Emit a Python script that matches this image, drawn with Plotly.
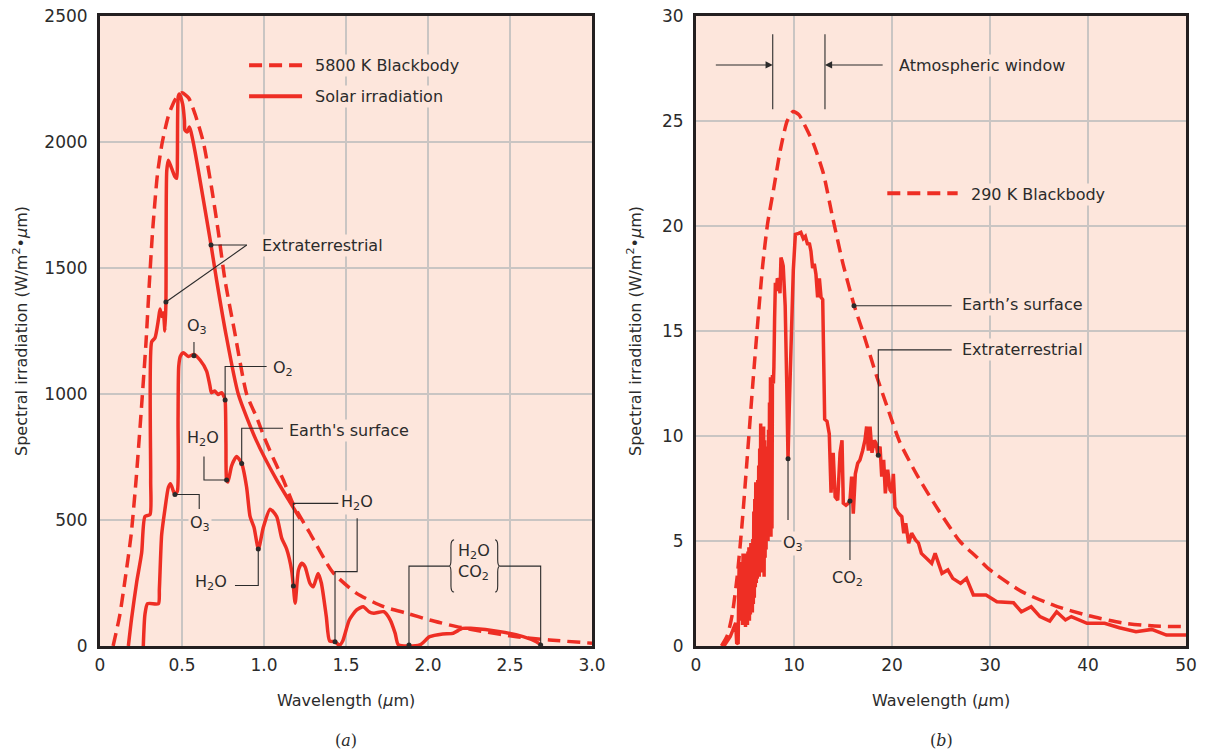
import plotly.graph_objects as go

# body margin is removed in the page (post_script), so the figure sits at (0, 0)
OFF = 0
W, H = 1207 - OFF, 752 - OFF
RED = '#ee2e24'
INK = '#2b2b2b'
BG = '#fde6dc'
GRID = '#c9c5c3'
FRAME = '#231f20'
FONT = 'DejaVu Sans'
DASH = '13px,7px'

def fx(px):
    return (px - OFF) / W

def fy(py):
    return 1 - (py - OFF) / H

# ---------------- Panel (a): solar spectrum ----------------
bb5800_x = [0.08, 0.12, 0.15, 0.19, 0.22, 0.25, 0.28, 0.30, 0.32, 0.35, 0.38, 0.42, 0.46, 0.50,
            0.54, 0.58, 0.63, 0.68, 0.72, 0.762, 0.82, 0.894, 0.96, 1.0, 1.06, 1.118, 1.18,
            1.28, 1.42, 1.565, 1.73, 1.87, 2.01, 2.175, 2.34, 2.54, 2.74, 3.0]
bb5800_y = [0, 120, 250, 442, 659, 920, 1200, 1430, 1640, 1870, 2000, 2110, 2170, 2195,
            2175, 2110, 2000, 1820, 1650, 1452, 1250, 1000, 900, 830, 740, 659, 560,
            448, 292, 209, 156, 130, 103, 77, 57, 37, 24, 11]

extra_x = [0.173, 0.193, 0.224, 0.254, 0.274, 0.305, 0.309, 0.315, 0.335, 0.356, 0.366, 0.376,
           0.386, 0.396, 0.402, 0.407, 0.417, 0.437, 0.457, 0.468, 0.472, 0.477, 0.484, 0.504,
           0.515, 0.518, 0.532, 0.545, 0.555, 0.58, 0.62, 0.677, 0.711, 0.77, 0.843, 0.95,
           1.077, 1.15, 1.22]
extra_y = [0, 111, 255, 370, 514, 522, 659, 1207, 1222, 1294, 1337, 1308,
           1322, 1250, 1366, 1885, 1928, 1895, 1862, 1856, 1942, 2180, 2190, 2150,
           2085, 2047, 2040, 2060, 2040, 1960, 1810, 1591, 1452, 1230, 1000, 820,
           659, 580, 505]

surface_x = [0.264, 0.274, 0.29, 0.356, 0.362, 0.376, 0.396, 0.417, 0.43, 0.447, 0.457, 0.472,
             0.476, 0.48, 0.49, 0.508, 0.539, 0.573, 0.61, 0.65, 0.67, 0.68, 0.70, 0.72, 0.742,
             0.756, 0.763, 0.768, 0.772, 0.78, 0.803, 0.833, 0.864, 0.894, 0.915, 0.939, 0.966,
             0.996, 1.037, 1.077, 1.108, 1.138, 1.169, 1.179, 1.19, 1.21, 1.23, 1.25, 1.28, 1.30,
             1.33, 1.35, 1.38, 1.40, 1.433, 1.46, 1.48, 1.52, 1.565, 1.605, 1.64, 1.67, 1.73,
             1.77, 1.80, 1.82, 1.95, 2.01, 2.09, 2.15, 2.21, 2.26, 2.44, 2.58, 2.66, 2.69]
surface_y = [0, 125, 168, 168, 226, 442, 543, 630, 644, 615, 601, 615,
             900, 1110, 1150, 1164, 1149, 1157, 1135, 1091, 1034, 1005, 1012, 998, 1005,
             990, 976, 803, 659, 651, 716, 752, 724, 630, 514, 471, 385,
             471, 543, 514, 428, 385, 298, 238, 170, 301, 328, 315, 249, 235,
             288, 249, 116, 20, 17, 3, 20, 103, 143, 156, 136, 130, 136,
             103, 50, 4, 4, 37, 48, 50, 70, 70, 57, 37, 17, 4]

# ---------------- Panel (b): Earth emission ----------------
bb290_x = [2.6, 3.2, 3.7, 4.2, 4.7, 5.2, 5.8, 6.3, 6.8, 7.3, 7.9, 8.6, 9.3, 9.9, 10.5, 11.2,
           12.0, 13.0, 13.9, 15.0, 16.15, 17.0, 18.4, 19.5, 20.8, 22.6, 24.7, 26.9, 28.6,
           30.0, 33.2, 36.6, 40.0, 43.5, 46.8, 50.0]
bb290_y = [0, 0.5, 1.5, 3.3, 5.8, 8.8, 12.5, 15.4, 18.1, 20.1, 21.7, 23.6, 25.0, 25.45, 25.3, 24.7,
           23.9, 22.5, 20.5, 18.2, 16.2, 15.0, 12.9, 11.4, 9.7, 8.1, 6.5, 5.0, 4.25,
           3.62, 2.6, 1.92, 1.45, 1.1, 0.95, 0.92]

earth_x = [2.85, 3.5, 4.05, 4.15, 4.3,
           4.35, 4.40, 4.45, 4.50, 4.55, 4.60, 4.65, 4.70, 4.75, 4.80, 4.85, 4.90, 4.95, 5.00,
           5.05, 5.10, 5.15, 5.20, 5.25, 5.30, 5.35, 5.40, 5.45, 5.50, 5.55, 5.60, 5.65, 5.70,
           5.75, 5.80, 5.85, 5.90, 5.95, 6.00, 6.05, 6.10, 6.15, 6.20, 6.25, 6.30, 6.35, 6.40,
           6.45, 6.50, 6.55, 6.60, 6.65, 6.70, 6.75, 6.80, 6.85, 6.90, 6.95, 7.00, 7.05, 7.10,
           7.15, 7.20, 7.25, 7.30, 7.35, 7.40, 7.45, 7.50, 7.55, 7.60, 7.65, 7.70, 7.75,
           7.80, 7.90, 7.95, 8.02, 8.10, 8.20, 8.30, 8.44, 8.57, 8.67, 8.80, 8.90, 9.10, 9.25,
           9.39, 9.52, 9.70, 9.93, 10.14, 10.48, 10.70, 10.95, 11.16, 11.40, 11.56, 11.73, 11.90,
           12.07, 12.24, 12.41, 12.59, 12.76, 12.93, 13.13, 13.37, 13.60, 13.78, 14.00, 14.20,
           14.46, 14.70, 14.90, 15.03, 15.30, 15.54, 15.71, 15.88, 16.05, 16.26, 16.50, 16.73,
           17.00, 17.24, 17.41, 17.59, 17.76, 17.96, 18.20, 18.37, 18.57, 18.78, 18.95, 19.15,
           19.32, 19.56, 19.80, 20.00, 20.14, 20.30, 20.65, 21.0, 21.2, 21.4, 21.7, 22.0, 22.4,
           22.7, 23.0, 24.05, 24.4, 25.1, 25.7, 26.2, 27.0, 27.6, 28.3, 29.6, 30.7, 32.4, 33.2,
           34.2, 35.1, 36.1, 36.8, 37.7, 38.3, 39.9, 41.7, 43.2, 44.9, 46.5, 48.0, 50.0]
earth_y = [0, 0.45, 1.1, 0.15, 0.1,
           2.2, 3.8, 1.4, 3.5, 1.2, 4.0, 1.5, 3.6, 1.0, 4.4, 1.3, 3.9, 1.0, 4.3,
           0.9, 4.4, 1.4, 3.8, 1.0, 4.5, 1.6, 4.7, 1.2, 4.2, 1.5, 4.9, 1.8, 4.4,
           1.6, 5.1, 2.0, 6.4, 2.3, 7.0, 2.8, 7.8, 3.0, 6.9, 3.2, 7.9, 3.4, 8.6,
           3.3, 9.4, 3.6, 10.6, 4.0, 10.2, 3.5, 9.6, 3.9, 10.45, 3.3, 9.8, 4.2, 8.9,
           4.6, 9.5, 5.1, 9.2, 5.0, 10.3, 5.5, 11.6, 5.2, 12.8, 5.2, 12.6, 5.6,
           12.9, 12.5, 13.3, 15.6, 17.3, 16.9, 17.5, 17.4, 16.8, 18.5, 18.3, 18.1, 16.2, 12.7,
           8.9, 11.4, 14.3, 17.9, 19.6, 19.65, 19.7, 19.4, 19.5, 19.1, 19.2, 18.8, 18.0,
           18.2, 17.7, 16.6, 17.5, 16.6, 16.5, 10.8, 10.7, 10.1, 7.3, 9.2, 7.1,
           6.95, 9.2, 9.8, 6.8, 6.7, 6.8, 6.9, 8.07, 6.3, 8.2, 8.7, 8.86,
           9.3, 9.8, 10.45, 9.3, 10.45, 9.2, 9.8, 9.65, 9.08, 9.5, 8.07, 8.86,
           7.27, 8.4, 7.43, 7.3, 8.2, 6.6, 6.32, 6.16, 5.37, 5.84, 4.89, 5.37, 5.05,
           4.9, 4.41, 3.94, 4.41, 3.46, 3.62, 3.22, 2.98, 3.22, 2.43, 2.43, 2.11, 2.06, 1.63,
           1.87, 1.4, 1.19, 1.63, 1.24, 1.4, 1.08, 1.08, 0.87, 0.68, 0.79, 0.52, 0.52]

# annotation dots
dots_a_x = [0.677, 0.402, 0.573, 0.763, 0.864, 0.772, 0.457, 0.965, 1.179, 1.433, 1.884, 2.687]
dots_a_y = [1591, 1365, 1152, 976, 724, 659, 601, 385, 238, 17, 4, 4]
dots_b_x = [16.12, 18.6, 9.39, 15.71]
dots_b_y = [16.2, 9.08, 8.92, 6.9]

fig = go.Figure()

def curve(x, y, ax, dash=None, shape='linear'):
    line = dict(color=RED, width=3.5, shape=shape, simplify=False)
    if shape == 'spline':
        line['smoothing'] = 0.6
    if dash:
        line['dash'] = dash
    fig.add_trace(go.Scatter(x=x, y=y, mode='lines', line=line, showlegend=False,
                             xaxis='x' + ax, yaxis='y' + ax, hoverinfo='skip'))

curve(bb5800_x, bb5800_y, '', DASH, 'spline')
curve(extra_x, extra_y, '', None, 'spline')
curve(surface_x, surface_y, '', None, 'spline')
curve(bb290_x, bb290_y, '2', DASH, 'spline')
curve(earth_x, earth_y, '2', None, 'linear')

fig.add_trace(go.Scatter(x=dots_a_x, y=dots_a_y, mode='markers', marker=dict(color=INK, size=5),
                         showlegend=False, cliponaxis=False, hoverinfo='skip'))
fig.add_trace(go.Scatter(x=dots_b_x, y=dots_b_y, mode='markers', marker=dict(color=INK, size=5),
                         showlegend=False, xaxis='x2', yaxis='y2', hoverinfo='skip'))

shapes = []
annotations = []

def leader(pts, ax=''):
    d = 'M ' + ' L '.join(f'{x},{y}' for x, y in pts)
    shapes.append(dict(type='path', path=d, xref='x' + ax, yref='y' + ax,
                       line=dict(color=INK, width=1.1)))

def label(text, x, y, ax='', xanchor='center', size=16):
    annotations.append(dict(text=text, x=x, y=y, xref='x' + ax, yref='y' + ax, showarrow=False,
                            xanchor=xanchor, yanchor='middle', bgcolor=BG, borderpad=1,
                            font=dict(family=FONT, size=size, color=INK)))

def legend_line(x0, x1, y, ax='', dash=None):
    ln = dict(color=RED, width=4)
    if dash:
        ln['dash'] = dash
    shapes.append(dict(type='line', x0=x0, x1=x1, y0=y, y1=y, xref='x' + ax, yref='y' + ax, line=ln))

def brace(xm, xtip, xcurl, ytop, ybot, d, ax=''):
    ymid = (ytop + ybot) / 2
    p = (f'M {xcurl},{ytop} Q {xm},{ytop} {xm},{ytop - d} L {xm},{ymid + d} '
         f'Q {xm},{ymid} {xtip},{ymid} Q {xm},{ymid} {xm},{ymid - d} L {xm},{ybot + d} '
         f'Q {xm},{ybot} {xcurl},{ybot}')
    shapes.append(dict(type='path', path=p, xref='x' + ax, yref='y' + ax,
                       line=dict(color=INK, width=1.1)))

# ---- panel (a) legend + labels ----
legend_line(0.909, 1.232, 2305, '', DASH)
legend_line(0.909, 1.232, 2182, '')
label('5800 K Blackbody', 1.30, 2305, '', 'left')
label('Solar irradiation', 1.30, 2182, '', 'left')

leader([(0.677, 1591), (0.895, 1591)])
leader([(0.895, 1591), (0.402, 1365)])
label('Extraterrestrial', 0.976, 1591, '', 'left')
leader([(0.573, 1152), (0.573, 1206)])
label('O<sub>3</sub>', 0.591, 1268)
leader([(0.763, 976), (0.763, 1109), (1.016, 1109)])
label('O<sub>2</sub>', 1.045, 1103, '', 'left')
leader([(0.864, 724), (0.864, 864), (1.116, 864)])
label("Earth's surface", 1.14, 857, '', 'left')
leader([(0.634, 752), (0.634, 659), (0.772, 659)])
label('H<sub>2</sub>O', 0.628, 822)
leader([(0.457, 601), (0.605, 601), (0.605, 544)])
label('O<sub>3</sub>', 0.61, 488)
leader([(0.823, 240), (0.965, 240), (0.965, 385)])
label('H<sub>2</sub>O', 0.677, 252)
leader([(1.179, 238), (1.179, 566), (1.453, 566)])
leader([(1.568, 507), (1.568, 295), (1.433, 295), (1.433, 17)])
label('H<sub>2</sub>O', 1.565, 570)
brace(2.140, 2.128, 2.159, 421, 214, 24)
brace(2.425, 2.439, 2.409, 421, 214, 24)
leader([(2.128, 317), (1.884, 317), (1.884, 4)])
leader([(2.439, 317), (2.687, 317), (2.687, 4)])
label('H<sub>2</sub>O', 2.28, 377)
label('CO<sub>2</sub>', 2.275, 290)

# ---- panel (b) legend + labels ----
legend_line(19.52, 26.7, 21.56, '2', DASH)
label('290 K Blackbody', 27.9, 21.52, '2', 'left')
leader([(7.83, 25.56), (7.83, 29.13)], '2')
leader([(13.16, 25.56), (13.16, 29.13)], '2')
for x_head, x_tail in [(7.83, 1.87), (13.16, 19.2)]:
    annotations.append(dict(x=x_head, y=27.67, ax=x_tail, ay=27.67, xref='x2', yref='y2',
                            axref='x2', ayref='y2', text='', showarrow=True, arrowhead=2,
                            arrowsize=1.3, arrowwidth=1.1, arrowcolor=INK, standoff=0))
label('Atmospheric window', 20.55, 27.62, '2', 'left')
leader([(16.12, 16.2), (26.09, 16.2)], '2')
label('Earth’s surface', 26.9, 16.24, '2', 'left')
leader([(18.6, 9.08), (18.6, 14.1), (26.09, 14.1)], '2')
label('Extraterrestrial', 26.9, 14.1, '2', 'left')
leader([(9.39, 8.92), (9.39, 6.0)], '2')
label('O<sub>3</sub>', 9.9, 4.9, '2')
leader([(15.71, 6.9), (15.71, 4.1)], '2')
label('CO<sub>2</sub>', 15.5, 3.2, '2')

# ---- axis titles and panel captions (paper coords) ----
def paper_text(text, px, py, size=16, angle=0, family=FONT):
    annotations.append(dict(text=text, x=fx(px), y=fy(py), xref='paper', yref='paper',
                            showarrow=False, xanchor='center', yanchor='middle', textangle=angle,
                            font=dict(family=family, size=size, color=INK)))

ytitle = 'Spectral irradiation (W/m<sup>2</sup>•<i>µ</i>m)'
paper_text(ytitle, 20, 331, angle=-90)
paper_text(ytitle, 634, 331, angle=-90)
paper_text('Wavelength (<i>µ</i>m)', 346, 700)
paper_text('Wavelength (<i>µ</i>m)', 941, 700)
paper_text('(<i>a</i>)', 346, 740, size=16, family='DejaVu Serif')
paper_text('(<i>b</i>)', 941, 740, size=16, family='DejaVu Serif')

tickfont = dict(family=FONT, size=17, color=INK)
axis_common = dict(showgrid=True, gridcolor=GRID, gridwidth=1.5, zeroline=False, showline=True,
                   mirror=True, linewidth=3, linecolor=FRAME, ticks='', tickfont=tickfont,
                   automargin=False, ticklabeloverflow='allow')

fig.update_layout(
    width=W, height=H, margin=dict(l=0, r=0, t=0, b=0, autoexpand=False),
    paper_bgcolor='white', plot_bgcolor=BG, showlegend=False,
    xaxis=dict(domain=[fx(100), fx(592)], range=[0, 3], anchor='y',
               tickvals=[0, 0.5, 1, 1.5, 2, 2.5, 3],
               ticktext=['0', '0.5', '1.0', '1.5', '2.0', '2.5', '3.0'],
               ticklabelstandoff=2, **axis_common),
    yaxis=dict(domain=[fy(646), fy(16)], range=[0, 2500], anchor='x',
               tickvals=[0, 500, 1000, 1500, 2000, 2500], ticklabelstandoff=6, **axis_common),
    xaxis2=dict(domain=[fx(696), fx(1186)], range=[0, 50], anchor='y2',
                tickvals=[0, 10, 20, 30, 40, 50], ticklabelstandoff=2, **axis_common),
    yaxis2=dict(domain=[fy(646), fy(16)], range=[0, 30], anchor='x2',
                tickvals=[0, 5, 10, 15, 20, 25, 30], ticklabelstandoff=6, **axis_common),
    shapes=shapes, annotations=annotations,
)

fig.write_html('out.html', config={'displayModeBar': False},
               post_script="document.body.style.margin='0';document.body.style.overflow='hidden';")
